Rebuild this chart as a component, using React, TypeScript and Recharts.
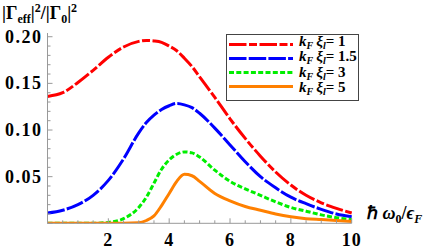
import { LineChart, Line, XAxis, YAxis, Legend } from 'recharts';

// ħω0/εF sample points
const omega = [0, 0.5, 1, 1.5, 2, 2.5, 3, 3.25, 3.5, 3.75, 4, 4.25, 4.5, 4.75, 5, 5.5, 6, 6.5, 7, 7.5, 8, 8.5, 9, 9.5, 10];

// |Γeff|²/|Γ0|² for each kF ξl
const xi1 = [0.136, 0.14, 0.151, 0.164, 0.178, 0.189, 0.195, 0.196, 0.1955, 0.194, 0.19, 0.185, 0.177, 0.168, 0.157, 0.135, 0.112, 0.091, 0.072, 0.055, 0.041, 0.03, 0.022, 0.016, 0.011];
const xi15 = [0.011, 0.014, 0.02, 0.03, 0.046, 0.069, 0.097, 0.108, 0.116, 0.122, 0.126, 0.1285, 0.127, 0.124, 0.118, 0.102, 0.084, 0.066, 0.05, 0.038, 0.028, 0.021, 0.015, 0.01, 0.007];
const xi3 = [0, 0, 0, 0, 0.001, 0.005, 0.017, 0.028, 0.043, 0.058, 0.068, 0.074, 0.0765, 0.0755, 0.071, 0.057, 0.045, 0.037, 0.03, 0.023, 0.017, 0.013, 0.009, 0.006, 0.004];
const xi5 = [0, 0, 0, 0, 0, 0, 0.0005, 0.003, 0.008, 0.019, 0.032, 0.045, 0.0525, 0.051, 0.045, 0.032, 0.024, 0.018, 0.014, 0.01, 0.007, 0.005, 0.004, 0.003, 0.002];

const legendLabels = ['1', '1.5', '3', '5'];

const xTicks = [0, 0.5, 1, 1.5, 2, 2.5, 3, 3.5, 4, 4.5, 5, 5.5, 6, 6.5, 7, 7.5, 8, 8.5, 9, 9.5, 10];
const xLabels = [2, 4, 6, 8, 10];
const yTicks = [0, 0.01, 0.02, 0.03, 0.04, 0.05, 0.06, 0.07, 0.08, 0.09, 0.1, 0.11, 0.12, 0.13, 0.14, 0.15, 0.16, 0.17, 0.18, 0.19, 0.2];
const yLabels = ['0.05', '0.10', '0.15', '0.20'];

const data = omega.map((w, i) => ({ w, a: xi1[i], b: xi15[i], c: xi3[i], d: xi5[i] }));

const series = [
  { key: 'a', color: '#ff0000', dash: '17.5 2.5 8 2.5' },
  { key: 'b', color: '#0000ff', dash: '17.5 2.2' },
  { key: 'c', color: '#00ee00', dash: '5 2.3' },
  { key: 'd', color: '#ff8000', dash: undefined },
];

const serif = '"Liberation Serif", "Times New Roman", serif';
const axisColor = '#999';

const XTick = (props: any) => {
  const { x, y, payload } = props;
  const v = payload.value;
  const major = v % 2 === 0;
  return (
    <g>
      <line x1={x} y1={y} x2={x} y2={y - (major ? 5 : 3)} stroke={axisColor} strokeWidth={1} />
      {xLabels.includes(v) && (
        <text x={x} y={y + 23} textAnchor="middle" fontFamily={serif} fontWeight="bold" fontSize={18} letterSpacing={1} fill="#000">
          {v}
        </text>
      )}
    </g>
  );
};

const YTick = (props: any) => {
  const { x, y, payload } = props;
  const v = payload.value;
  const idx = Math.round(v * 100);
  const major = idx % 5 === 0;
  const label = idx > 0 && major ? yLabels[idx / 5 - 1] : null;
  return (
    <g>
      <line x1={x} y1={y} x2={x + (major ? 5 : 3)} y2={y} stroke={axisColor} strokeWidth={1} />
      {label && (
        <text x={x - 5} y={y + 6} textAnchor="end" fontFamily={serif} fontWeight="bold" fontSize={18} letterSpacing={1.5} fill="#000">
          {label}
        </text>
      )}
    </g>
  );
};

const LegendBox = () => {
  const lineY = [10.5, 24.5, 38.5, 52.5];
  const textY = [11.5, 27, 42.5, 57.5];
  return (
    <svg width={134} height={68} style={{ overflow: 'visible', display: 'block' }}>
      <rect x={0.5} y={0.5} width={132} height={66} fill="#fff" stroke="#444" strokeWidth={1} />
      {series.map((s, i) => (
        <g key={s.key}>
          <line x1={3} y1={lineY[i]} x2={67} y2={lineY[i]} stroke={s.color} strokeWidth={3} strokeDasharray={s.dash} />
          <text x={73} y={textY[i]} fontFamily={serif} fontWeight="bold" fontSize={15} fill="#000">
            <tspan fontStyle="italic">k</tspan>
            <tspan fontStyle="italic" fontSize={10} dy={3}>F</tspan>
            <tspan fontStyle="italic" dy={-3} dx={3}>ξ</tspan>
            <tspan fontStyle="italic" fontSize={10} dy={3}>l</tspan>
            <tspan dy={-3}>{'= ' + legendLabels[i]}</tspan>
          </text>
        </g>
      ))}
    </svg>
  );
};

const small = (top: number, size: number) => ({ position: 'relative' as const, top, fontSize: size, lineHeight: 0 });

export default function App() {
  return (
    <div style={{ position: 'absolute', left: 0, top: 0, width: 436, height: 252, background: '#fff' }}>
      <LineChart width={436} height={252} data={data} margin={{ top: 33, right: 84.3, bottom: 0, left: 0 }}>
        <XAxis
          dataKey="w"
          type="number"
          domain={[0, 10]}
          ticks={xTicks}
          interval={0}
          height={28.7}
          tickSize={0}
          tickMargin={0}
          tickLine={false}
          stroke={axisColor}
          tick={<XTick />}
        />
        <YAxis
          type="number"
          domain={[0, 0.204]}
          ticks={yTicks}
          interval={0}
          width={47.5}
          tickSize={0}
          tickMargin={0}
          tickLine={false}
          stroke={axisColor}
          allowDataOverflow
          tick={<YTick />}
        />
        <Legend
          layout="vertical"
          align="center"
          verticalAlign="middle"
          content={<LegendBox />}
          wrapperStyle={{ left: 226, top: 34, width: 134, height: 68 }}
        />
        {series.map((s) => (
          <Line
            key={s.key}
            dataKey={s.key}
            type="monotone"
            stroke={s.color}
            strokeWidth={3}
            strokeDasharray={s.dash}
            dot={false}
            activeDot={false}
            isAnimationActive={false}
          />
        ))}
      </LineChart>
      <div style={{ position: 'absolute', left: 2, top: 4, fontFamily: serif, fontWeight: 'bold', fontSize: 18, lineHeight: '18px', whiteSpace: 'nowrap' }}>
        |Γ<span style={small(4, 12)}>eff</span>|<span style={small(-7, 12)}>2</span>/|Γ<span style={small(4, 12)}>0</span>|<span style={small(-7, 12)}>2</span>
      </div>
      <div style={{ position: 'absolute', left: 367, top: 204, fontFamily: serif, fontWeight: 'bold', fontSize: 18, lineHeight: '18px', whiteSpace: 'nowrap' }}>
        ℏ <i>ω</i><span style={small(4, 12)}>0</span>/<i>ϵ</i><i style={small(4, 12)}>F</i>
      </div>
    </div>
  );
}
